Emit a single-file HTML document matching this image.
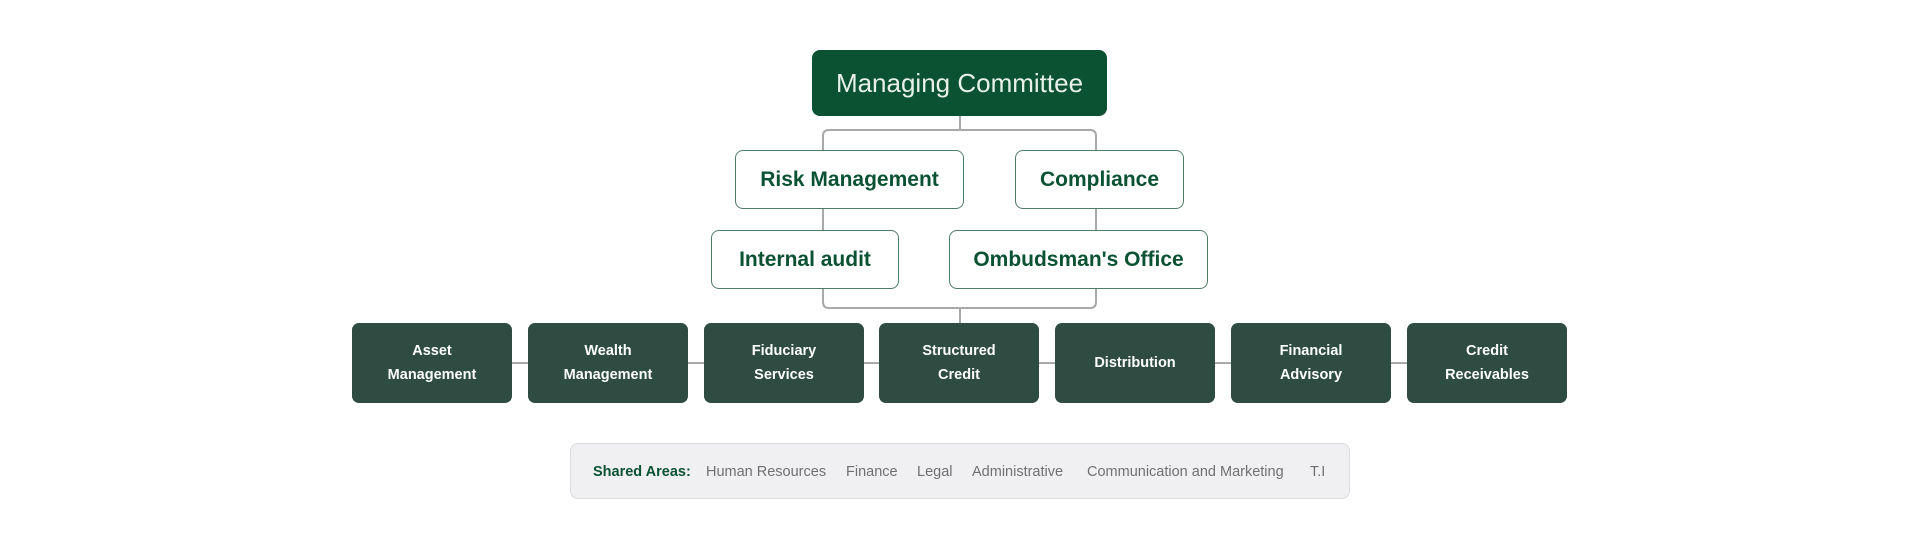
<!DOCTYPE html>
<html><head><meta charset="utf-8"><style>
html,body{margin:0;padding:0;background:#fff;width:1920px;height:550px;overflow:hidden;font-family:"Liberation Sans",sans-serif}
.b{position:absolute;box-sizing:border-box;display:flex;align-items:center;justify-content:center;text-align:center;border-radius:8px}
.w{background:#fff;border:1.5px solid #4d7c66;color:#0b5233;font-weight:bold;font-size:21px}
.d{background:#2f4c42;color:#fff;font-weight:bold;font-size:14.5px;line-height:24px;border-radius:7px}
.sa{position:absolute;left:570px;top:443px;width:780px;height:56px;box-sizing:border-box;background:#f0f0f2;border:1px solid #dcdcdc;border-radius:8px}
.t{position:absolute;top:464px;font-size:14.5px;color:#707070;white-space:nowrap}
</style></head><body>
<svg width="1920" height="550" style="position:absolute;left:0;top:0">
<g fill="none" stroke="#a9a9a9" stroke-width="2">
<line x1="960" y1="116" x2="960" y2="130"/>
<path d="M823 150 V136 Q823 130 829 130 H1090 Q1096 130 1096 136 V150"/>
<line x1="823" y1="209" x2="823" y2="230"/>
<line x1="1096" y1="209" x2="1096" y2="230"/>
<path d="M823 289 V302 Q823 308 829 308 H1090 Q1096 308 1096 302 V289"/>
<line x1="960" y1="308" x2="960" y2="324"/>
<line x1="360" y1="363" x2="1560" y2="363"/>
</g></svg>
<div class="b" style="left:812px;top:50px;width:295px;height:66px;background:#0b5233;color:#e8f0ea;font-size:26px;border-radius:8px">Managing Committee</div>
<div class="b w" style="left:735px;top:150px;width:229px;height:59px">Risk Management</div>
<div class="b w" style="left:1015px;top:150px;width:169px;height:59px">Compliance</div>
<div class="b w" style="left:711px;top:230px;width:188px;height:59px">Internal audit</div>
<div class="b w" style="left:949px;top:230px;width:259px;height:59px">Ombudsman's Office</div>
<div class="b d" style="left:352px;top:323px;width:160px;height:80px">Asset<br>Management</div>
<div class="b d" style="left:528px;top:323px;width:160px;height:80px">Wealth<br>Management</div>
<div class="b d" style="left:704px;top:323px;width:160px;height:80px">Fiduciary<br>Services</div>
<div class="b d" style="left:879px;top:323px;width:160px;height:80px">Structured<br>Credit</div>
<div class="b d" style="left:1055px;top:323px;width:160px;height:80px">Distribution</div>
<div class="b d" style="left:1231px;top:323px;width:160px;height:80px">Financial<br>Advisory</div>
<div class="b d" style="left:1407px;top:323px;width:160px;height:80px">Credit<br>Receivables</div>
<div class="sa"></div>
<div class="t" style="left:593px;color:#0b5233;font-weight:bold">Shared Areas:</div>
<div class="t" style="left:706px">Human Resources</div>
<div class="t" style="left:846px">Finance</div>
<div class="t" style="left:917px">Legal</div>
<div class="t" style="left:972px">Administrative</div>
<div class="t" style="left:1087px">Communication and Marketing</div>
<div class="t" style="left:1310px">T.I</div>
</body></html>
